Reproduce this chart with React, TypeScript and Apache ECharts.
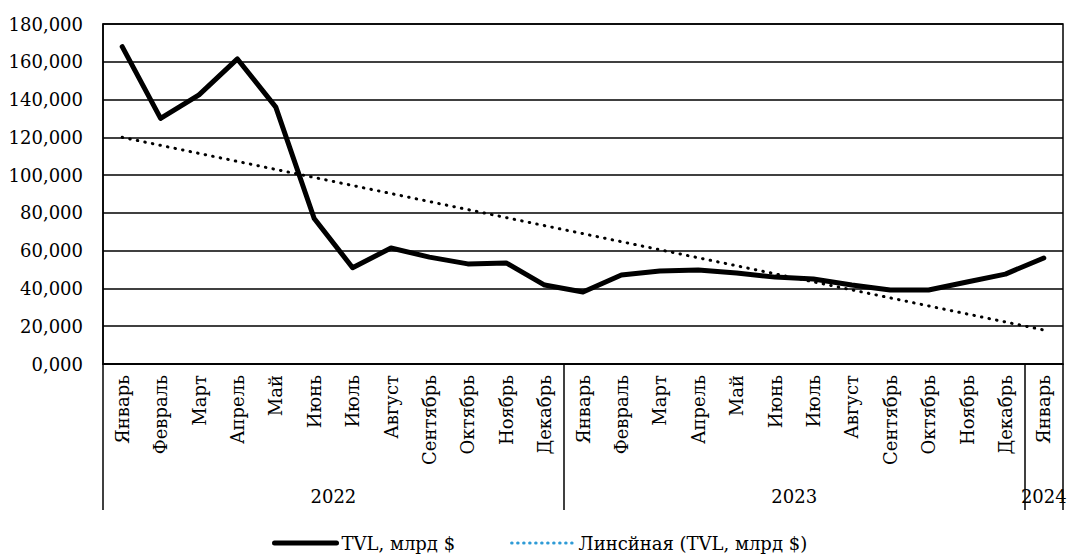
import React, { useEffect, useRef } from "react";
import * as echarts from "echarts";

const months = [
  "Январь", "Февраль", "Март", "Апрель", "Май", "Июнь", "Июль", "Август",
  "Сентябрь", "Октябрь", "Ноябрь", "Декабрь",
  "Январь", "Февраль", "Март", "Апрель", "Май", "Июнь", "Июль", "Август",
  "Сентябрь", "Октябрь", "Ноябрь", "Декабрь",
  "Январь",
];
const years = ["2022", "2023", "2024"];
const yearCenters = [6, 18, 24.5];
const yearBounds = [0, 12, 24, 25];
const tvl = [
  168.0, 130.0, 142.5, 161.5, 136.0, 77.0, 51.0, 61.4, 56.6, 53.0, 53.5, 41.8,
  38.1, 47.1, 49.2, 49.8, 48.2, 46.0, 45.0, 41.8, 39.2, 39.2, 43.4, 47.6, 56.1,
];
const trendIdx = [0, 24];
const trendVals = [120.0, 18.0];

const seriesName1 = "TVL, млрд $";
const seriesName2 = "Линсйная (TVL, млрд $)";
const FONT = "DejaVu Serif";
const FS = 18;

export default function App() {
  const ref = useRef<HTMLDivElement>(null);
  useEffect(() => {
    if (!ref.current) return;
    const chart = echarts.init(ref.current, undefined, { renderer: "svg" });
    chart.setOption({
      animation: false,
      backgroundColor: "#ffffff",
      grid: {
        left: 103, right: 4, top: 24, bottom: 193,
        outerBoundsMode: "none",
        show: true, borderColor: "#000", borderWidth: 1.5,
      },
      legend: {
        left: 272, top: 534,
        itemWidth: 62, itemHeight: 14, itemGap: 55, padding: 0,
        textStyle: { fontFamily: FONT, fontSize: FS, color: "#000" },
        data: [
          {
            name: seriesName1,
            itemStyle: { color: "#000", opacity: 0 },
            lineStyle: { color: "#000", width: 5, cap: "round" },
          },
          {
            name: seriesName2,
            itemStyle: { color: "#2E9BD6", opacity: 0 },
            lineStyle: { color: "#2E9BD6", type: [0.5, 5.5], width: 3, cap: "round" },
          },
        ],
      },
      xAxis: [
        {
          type: "category",
          data: months,
          boundaryGap: true,
          axisLine: { show: true, lineStyle: { color: "#000", width: 1.5 } },
          axisTick: { show: false },
          axisLabel: {
            rotate: 90, interval: 0, margin: 11,
            fontFamily: FONT, fontSize: FS, color: "#000",
          },
        },
        {
          type: "value",
          min: 0, max: 25,
          position: "bottom",
          axisLine: { show: false },
          splitLine: { show: false },
          axisTick: {
            show: true, length: 146, customValues: yearBounds,
            lineStyle: { color: "#000", width: 1.5 },
          },
          axisLabel: {
            customValues: yearCenters, margin: 123,
            fontFamily: FONT, fontSize: FS, color: "#000",
            formatter: (v: number) => years[yearCenters.indexOf(v)] ?? "",
          },
        },
      ],
      yAxis: {
        type: "value",
        min: 0, max: 180, interval: 20,
        axisLine: { show: true, lineStyle: { color: "#000", width: 1.5 } },
        axisTick: { show: false },
        splitLine: { show: true, lineStyle: { color: "#000", width: 1.5 } },
        axisLabel: {
          margin: 20, fontFamily: FONT, fontSize: FS, color: "#000",
          formatter: (v: number) => v.toFixed(3).replace(".", ","),
        },
      },
      series: [
        {
          name: seriesName1,
          type: "line",
          data: tvl,
          symbol: "none",
          lineStyle: { color: "#000", width: 5, cap: "round", join: "round" },
          itemStyle: { color: "#000" },
          z: 3,
        },
        {
          name: seriesName2,
          type: "line",
          data: trendIdx.map((x, i) => [x, trendVals[i]]),
          symbol: "none",
          lineStyle: { color: "#000", width: 3, type: [0.5, 7.2], cap: "round" },
          itemStyle: { color: "#000" },
          z: 2,
        },
      ],
    });
    return () => chart.dispose();
  }, []);
  return (
    <div
      ref={ref}
      style={{ position: "fixed", left: 0, top: 0, width: 1067, height: 557 }}
    />
  );
}
